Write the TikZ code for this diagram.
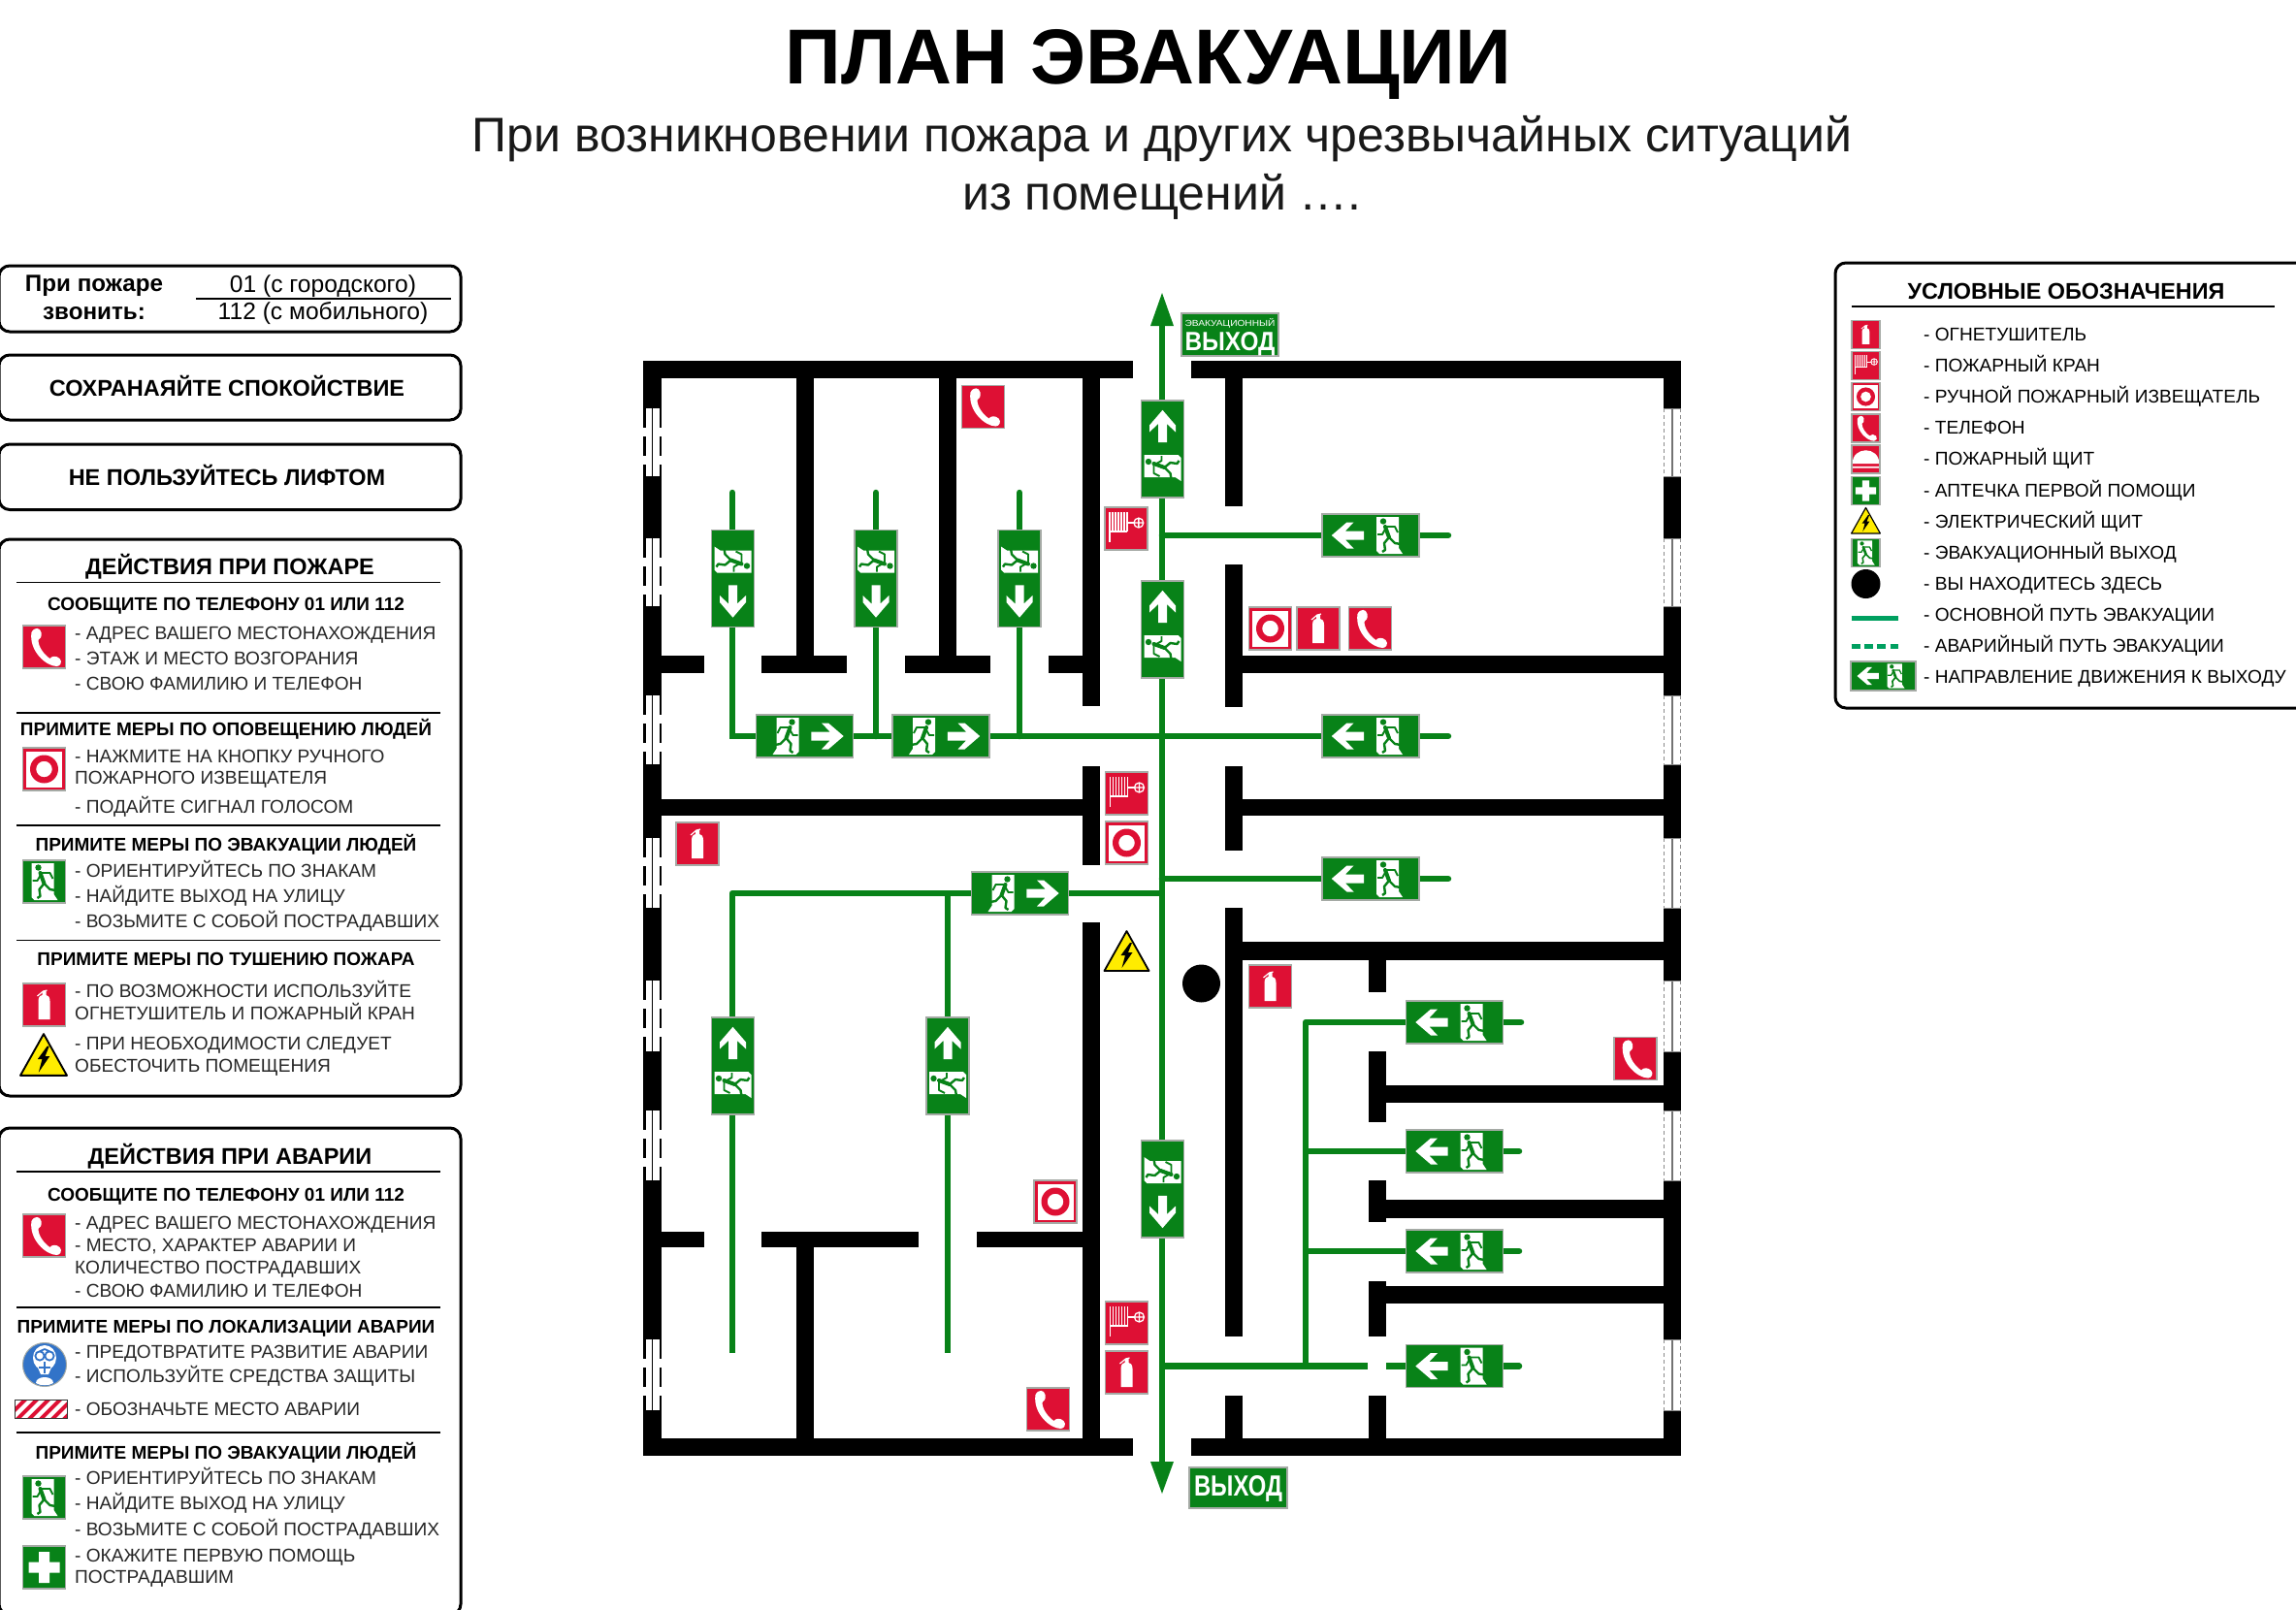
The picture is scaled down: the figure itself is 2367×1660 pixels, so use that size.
\documentclass[tikz,border=0pt]{standalone}
\usepackage{fontspec}
\usepackage{graphicx}
\setmainfont{Liberation Sans}
\definecolor{pgreen}{RGB}{8,130,24}
\definecolor{lgreen}{RGB}{0,160,96}
\definecolor{sred}{RGB}{222,16,52}
\definecolor{frm}{RGB}{165,170,165}
\definecolor{mblue}{RGB}{50,115,200}
\definecolor{wyel}{RGB}{255,236,0}
\newcounter{tn}
\tikzset{
  wallf/.style={fill=black},
  route/.style={draw=pgreen,line width=6.5pt,line cap=butt},
  routeend/.style={draw=pgreen,line width=6.5pt,line cap=round},
  panel/.style={draw=black,line width=3pt,rounded corners=11pt,fill=white},
  rulel/.style={draw=black,line width=1.6pt},
  item/.style={anchor=base west,inner sep=0pt,font=\fontsize{19.1}{21}\selectfont,text=black!85},
  head/.style={anchor=base,inner sep=0pt,font=\bfseries\fontsize{19}{21}\selectfont},
  ttl/.style={anchor=base,inner sep=0pt,font=\bfseries\fontsize{23.5}{26}\selectfont},
  signframe/.style={draw=frm,line width=1.6pt},
  dirL/.style={},
  dirR/.style={cm={-1,0,0,1,(0,0)}},
  dirU/.style={cm={0,-1,-1,0,(0,0)}},
  dirD/.style={cm={0,1,1,0,(0,0)}},
}
% text helpers
\newcommand\itm[2]{\stepcounter{tn}\node[item] (t\thetn) at (77,#1+7) {#2};}
\newcommand\hd[2]{\stepcounter{tn}\node[head] (t\thetn) at (233,#1+7) {#2};}
\newcommand\tl[2]{\stepcounter{tn}\node[ttl] (t\thetn) at (237,#1+8.5) {#2};}
\newcommand\leg[2]{\stepcounter{tn}\node[item,text=black] (t\thetn) at (1983,#1+7) {#2};}
\newcommand\wall[4]{\fill[wallf] (#1,#2) rectangle (#3,#4);}
% pictograms, drawn about the centre of a 44 unit square
\newcommand\icnphone{\fill[white] (-13,-15) .. controls (-10,-21) and (-4,-20) .. (-3,-15)
  .. controls (-2,-11) and (-4,-8) .. (-6,-7)
  .. controls (-6,0) and (0,8) .. (6,12)
  .. controls (8,9) and (13,9) .. (16,12)
  .. controls (19,15) and (17,20) .. (13,20)
  .. controls (2,20) and (-16,4) .. (-13,-15) -- cycle;}
\newcommand\icnext{\fill[white] (-6,15) -- (-6,-4) .. controls (-6,-9) and (-3,-10) .. (-2,-10) -- (-2,-14) -- (2,-14) -- (2,-10) .. controls (4,-10) and (6,-8) .. (6,-4) -- (6,15) -- cycle;
  \draw[white,line width=\sc*1.2pt] (-7,-9) -- (-1,-14) -- (3,-15);}
\newcommand\icnhyd{\foreach \hx in {-17,-14,-11,-8,-5,-2,1}{\draw[white,line width=\sc*1.5pt] (\hx,-17) -- (\hx,3);}
  \draw[white,line width=\sc*1.5pt] (-17,3) -- (-17,14) (-17,3) -- (1,3);
  \draw[white,line width=\sc*1.4pt] (1,-6) -- (8,-6);
  \draw[white,line width=\sc*1.3pt] (13,-6) circle (5) (8,-6) -- (18,-6) (13,-11) -- (13,-1);}
\newcommand\icnman{\fill[white] (-18.5,-18.5) rectangle (18.5,18.5);
  \fill[sred,even odd rule] (0,0) circle (14.5) (0,0) circle (8.3);}
\newcommand\icnshield{\fill[white] (-21,7) .. controls (-21,-21) and (21,-21) .. (21,7) -- cycle (-21,11) rectangle (21,14);}
\newcommand\icncross{\fill[white] (-5.5,-16) rectangle (5.5,16) (-16,-5.5) rectangle (16,5.5);}
\newcommand\manfig{\fill[pgreen] (-6,-14.5) circle (3.2);
  \draw[pgreen,line width=\sc*4pt,line cap=round] (-4,-9) -- (0,2);
  \draw[pgreen,line width=\sc*1.9pt,line join=round] (-3,-9) -- (6,-9) -- (9,-3);
  \draw[pgreen,line width=\sc*1.9pt,line join=round] (-3,-8) -- (-7,-1) -- (-12,-1);
  \draw[pgreen,line width=\sc*2.4pt,line join=round] (0,2) -- (6,8) -- (12,9);
  \draw[pgreen,line width=\sc*2.4pt,line join=round] (0,2) -- (-5,8) -- (-4,15) -- (-7,17);}
\newcommand\doorman{\fill[white] (-13,-19) -- (10,-19) -- (10,13) -- (14,19) -- (-10,19) -- (-13,16) -- cycle; \manfig}
\newcommand\icnexit{\doorman}
\newcommand\arrowleft{\fill[white] (-16.7,0) -- (-1,-13.5) -- (6,-13.5) -- (-2.5,-4.5) -- (16.7,-4.5) -- (16.7,4.5) -- (-2.5,4.5) -- (6,13.5) -- (-1,13.5) -- cycle;}
% #1,#2 centre, #3 size, #4 fill, #5 pictogram
\newcommand\icon[5]{\begin{scope}[shift={(#1,#2)},scale=#3/44]
  \pgfmathsetmacro\sc{#3/44}
  \fill[#4] (-22,-22) rectangle (22,22);
  \csname icn#5\endcsname
  \draw[signframe] (-22,-22) rectangle (22,22);
\end{scope}}
\newcommand\warn[3]{\begin{scope}[shift={(#1,#2)},scale=#3/48]
  \fill[wyel,draw=black,line width=#3/48*1.8pt,line join=round] (-23,20) -- (0,-21) -- (23,20) -- cycle;
  \fill[black] (3.5,-9) -- (-6,4) -- (-1.5,4) -- (-5,17) -- (6,1) -- (1.5,1) -- (5.5,-9) -- cycle;
\end{scope}}
\newcommand\xsign[4]{\begin{scope}[shift={(#1,#2)},scale=#3,#4]
  \pgfmathsetmacro\sc{#3}
  \fill[pgreen] (-50,-22) rectangle (50,22);
  \begin{scope}[shift={(-23.5,0)}]\arrowleft\end{scope}
  \begin{scope}[shift={(19,0)}]\doorman\end{scope}
  \draw[signframe] (-50,-22) rectangle (50,22);
\end{scope}}
\newcommand\winl[2]{\fill[white] (660,#1) rectangle (686,#2);
  \draw[black,line width=2.2pt,dash pattern=on 20pt off 9pt] (664.5,#1) -- (664.5,#2);
  \draw[black,line width=2.2pt,dash pattern=on 20pt off 9pt] (681,#1) -- (681,#2);
  \draw[black,line width=1.2pt] (672.5,#1) -- (672.5,#2);}
\newcommand\winr[2]{\fill[white] (1712,#1) rectangle (1736,#2);
  \draw[black!45,line width=1.3pt,dash pattern=on 4pt off 3pt] (1715.5,#1) -- (1715.5,#2);
  \draw[black!45,line width=1.3pt,dash pattern=on 4pt off 3pt] (1732.5,#1) -- (1732.5,#2);
  \draw[black!55,line width=1.3pt] (1724,#1) -- (1724,#2);
  \draw[black!45,line width=1pt] (1715,#1) -- (1733,#1) (1715,#2) -- (1733,#2);}
\begin{document}
\begin{tikzpicture}[x=1pt,y=-1pt]
\useasboundingbox (0,0) rectangle (2367,1660);
\fill[white] (0,0) rectangle (2367,1660);
% titles
\node[anchor=base,inner sep=0pt,font=\bfseries\fontsize{80.3}{86}\selectfont] (title) at (1184,86) {ПЛАН ЭВАКУАЦИИ};
\node[anchor=base,inner sep=0pt,font=\fontsize{50}{54}\selectfont,text=black!90] (sub1) at (1198,156) {При возникновении пожара и других чрезвычайных ситуаций};
\node[anchor=base,inner sep=0pt,font=\fontsize{50}{54}\selectfont,text=black!90] (sub2) at (1198,216) {из помещений ….};
% left boxes
\draw[panel] (-1,274) rectangle (475,342);
\node[anchor=base,inner sep=0pt,font=\bfseries\fontsize{24.2}{26}\selectfont] (p1) at (97,300) {При пожаре};
\node[anchor=base,inner sep=0pt,font=\bfseries\fontsize{24.2}{26}\selectfont] (p2) at (97,329) {звонить:};
\node[anchor=base,inner sep=0pt,font=\fontsize{24.6}{26}\selectfont] (p3) at (333,301) {01 (с городского)};
\node[anchor=base,inner sep=0pt,font=\fontsize{24.6}{26}\selectfont] (p4) at (333,329) {112 (с мобильного)};
\draw[rulel] (202,308) -- (465,308);
\draw[panel] (-1,366) rectangle (475,433);
\node[anchor=base,inner sep=0pt,font=\bfseries\fontsize{23.5}{26}\selectfont] (calm) at (234,408.5) {СОХРАНАЯЙТЕ СПОКОЙСТВИЕ};
\draw[panel] (-1,458) rectangle (475,525.5);
\node[anchor=base,inner sep=0pt,font=\bfseries\fontsize{23.5}{26}\selectfont] (lift) at (234,500.5) {НЕ ПОЛЬЗУЙТЕСЬ ЛИФТОМ};
% fire panel
\draw[panel] (-1,556) rectangle (475,1130);
\tl{583.5}{ДЕЙСТВИЯ ПРИ ПОЖАРЕ}
\draw[rulel] (17,600.5) -- (454,600.5);
\hd{622.5}{СООБЩИТЕ ПО ТЕЛЕФОНУ 01 ИЛИ 112}
\itm{652.5}{- АДРЕС ВАШЕГО МЕСТОНАХОЖДЕНИЯ}
\itm{678.5}{- ЭТАЖ И МЕСТО ВОЗГОРАНИЯ}
\itm{704.5}{- СВОЮ ФАМИЛИЮ И ТЕЛЕФОН}
\draw[rulel] (17,735) -- (454,735);
\hd{751}{ПРИМИТЕ МЕРЫ ПО ОПОВЕЩЕНИЮ ЛЮДЕЙ}
\itm{779}{- НАЖМИТЕ НА КНОПКУ РУЧНОГО}
\itm{801.5}{ПОЖАРНОГО ИЗВЕЩАТЕЛЯ}
\itm{831}{- ПОДАЙТЕ СИГНАЛ ГОЛОСОМ}
\draw[rulel] (17,851) -- (454,851);
\hd{870}{ПРИМИТЕ МЕРЫ ПО ЭВАКУАЦИИ ЛЮДЕЙ}
\itm{897}{- ОРИЕНТИРУЙТЕСЬ ПО ЗНАКАМ}
\itm{923}{- НАЙДИТЕ ВЫХОД НА УЛИЦУ}
\itm{949.5}{- ВОЗЬМИТЕ С СОБОЙ ПОСТРАДАВШИХ}
\draw[rulel] (17,969.5) -- (454,969.5);
\hd{988}{ПРИМИТЕ МЕРЫ ПО ТУШЕНИЮ ПОЖАРА}
\itm{1021}{- ПО ВОЗМОЖНОСТИ ИСПОЛЬЗУЙТЕ}
\itm{1044}{ОГНЕТУШИТЕЛЬ И ПОЖАРНЫЙ КРАН}
\itm{1075}{- ПРИ НЕОБХОДИМОСТИ СЛЕДУЕТ}
\itm{1098}{ОБЕСТОЧИТЬ ПОМЕЩЕНИЯ}
\icon{45.5}{667}{44}{sred}{phone}
\icon{45.5}{793}{44}{sred}{man}
\icon{45.5}{909}{44}{pgreen}{exit}
\icon{45.5}{1036}{44}{sred}{ext}
\warn{45}{1088}{50}
% accident panel
\draw[panel] (-1,1163) rectangle (475,1665);
\tl{1192}{ДЕЙСТВИЯ ПРИ АВАРИИ}
\draw[rulel] (17,1208) -- (454,1208);
\hd{1231}{СООБЩИТЕ ПО ТЕЛЕФОНУ 01 ИЛИ 112}
\itm{1260}{- АДРЕС ВАШЕГО МЕСТОНАХОЖДЕНИЯ}
\itm{1283}{- МЕСТО, ХАРАКТЕР АВАРИИ И}
\itm{1306}{КОЛИЧЕСТВО ПОСТРАДАВШИХ}
\itm{1330}{- СВОЮ ФАМИЛИЮ И ТЕЛЕФОН}
\draw[rulel] (17,1348) -- (454,1348);
\hd{1367}{ПРИМИТЕ МЕРЫ ПО ЛОКАЛИЗАЦИИ АВАРИИ}
\itm{1393}{- ПРЕДОТВРАТИТЕ РАЗВИТИЕ АВАРИИ}
\itm{1418}{- ИСПОЛЬЗУЙТЕ СРЕДСТВА ЗАЩИТЫ}
\itm{1452}{- ОБОЗНАЧЬТЕ МЕСТО АВАРИИ}
\draw[rulel] (17,1477) -- (454,1477);
\hd{1497}{ПРИМИТЕ МЕРЫ ПО ЭВАКУАЦИИ ЛЮДЕЙ}
\itm{1523}{- ОРИЕНТИРУЙТЕСЬ ПО ЗНАКАМ}
\itm{1549}{- НАЙДИТЕ ВЫХОД НА УЛИЦУ}
\itm{1576}{- ВОЗЬМИТЕ С СОБОЙ ПОСТРАДАВШИХ}
\itm{1603}{- ОКАЖИТЕ ПЕРВУЮ ПОМОЩЬ}
\itm{1625}{ПОСТРАДАВШИМ}
\icon{45.5}{1274}{44}{sred}{phone}
% mask
\begin{scope}[shift={(46,1407)}]
  \fill[mblue,draw=frm,line width=1pt] (0,0) circle (22.5);
  \fill[white] (0,-7) ellipse (12 and 13);
  \fill[white] (-7,3) -- (7,3) -- (4,10) -- (-4,10) -- cycle;
  \fill[white] (-9,19) .. controls (-9,11) and (9,11) .. (9,19) .. controls (5,22) and (-5,22) .. (-9,19) -- cycle;
  \draw[mblue,line width=1.8pt] (-5,-9) circle (4.6) (5,-9) circle (4.6) (0,-16) -- (-9,-12) (0,-16) -- (9,-12);
  \draw[mblue,line width=1.2pt] (-6,3) -- (6,3) (0,-3) -- (0,9);
\end{scope}
% danger stripe
\begin{scope}
  \clip (15,1443) rectangle (69,1462);
  \fill[sred] (15,1443) rectangle (69,1462);
  \foreach \sx in {-6,6,18,30,42,54}{\fill[white] (\sx+4,1462) -- (\sx+10,1462) -- (\sx+29,1443) -- (\sx+23,1443) -- cycle;}
\end{scope}
\draw[black!80,line width=1pt] (15,1443) rectangle (69,1462);
\icon{45.5}{1544}{44}{pgreen}{exit}
\icon{45.5}{1616}{44}{pgreen}{cross}
% legend
\draw[panel] (1892,271) rectangle (2380,730);
\node[anchor=base,inner sep=0pt,font=\bfseries\fontsize{23.4}{26}\selectfont] (lt) at (2130,308) {УСЛОВНЫЕ ОБОЗНАЧЕНИЯ};
\draw[rulel] (1909,316) -- (2345,316);
\leg{344}{- ОГНЕТУШИТЕЛЬ}
\leg{376}{- ПОЖАРНЫЙ КРАН}
\leg{408}{- РУЧНОЙ ПОЖАРНЫЙ ИЗВЕЩАТЕЛЬ}
\leg{440.5}{- ТЕЛЕФОН}
\leg{472.5}{- ПОЖАРНЫЙ ЩИТ}
\leg{505}{- АПТЕЧКА ПЕРВОЙ ПОМОЩИ}
\leg{537}{- ЭЛЕКТРИЧЕСКИЙ ЩИТ}
\leg{569}{- ЭВАКУАЦИОННЫЙ ВЫХОД}
\leg{601}{- ВЫ НАХОДИТЕСЬ ЗДЕСЬ}
\leg{633.5}{- ОСНОВНОЙ ПУТЬ ЭВАКУАЦИИ}
\leg{665.5}{- АВАРИЙНЫЙ ПУТЬ ЭВАКУАЦИИ}
\leg{697.5}{- НАПРАВЛЕНИЕ ДВИЖЕНИЯ К ВЫХОДУ}
\icon{1923.5}{345}{29}{sred}{ext}
\icon{1923.5}{377}{29}{sred}{hyd}
\icon{1923.5}{409}{29}{sred}{man}
\icon{1923.5}{441.5}{29}{sred}{phone}
\icon{1923.5}{473.5}{29}{sred}{shield}
\icon{1923.5}{506}{29}{pgreen}{cross}
\warn{1923.5}{537}{31}
\icon{1923.5}{570}{29}{pgreen}{exit}
\fill[black] (1923.5,602) circle (15);
\draw[lgreen,line width=4.5pt] (1908.5,637.5) -- (1957,637.5);
\draw[lgreen,line width=4.5pt,dash pattern=on 9pt off 4.4pt] (1908.5,666.5) -- (1957,666.5);
\xsign{1941.5}{697}{0.67}{dirL}
% walls
\wall{663}{372}{1168}{390}
\wall{1228}{372}{1733}{390}
\wall{663}{1483}{1168}{1501}
\wall{1228}{1483}{1733}{1501}
\wall{663}{372}{682}{1501}
\wall{1715}{372}{1733}{1501}
\wall{820.5}{390}{838.5}{676}
\wall{968}{390}{986}{676}
\wall{1116}{390}{1134}{728}
\wall{682}{676}{726}{694}
\wall{785}{676}{873}{694}
\wall{933}{676}{1020.5}{694}
\wall{1081}{676}{1116}{694}
\wall{1263}{390}{1281}{522}
\wall{1263}{582}{1281}{729}
\wall{1281}{676}{1715}{694}
\wall{1116}{790}{1134}{892}
\wall{682}{824}{1116}{841}
\wall{1263}{790}{1281}{877}
\wall{1281}{824}{1715}{841}
\wall{1116}{951}{1134}{1483}
\wall{682}{1270}{726}{1286}
\wall{785}{1270}{947}{1286}
\wall{1007}{1270}{1116}{1286}
\wall{820.5}{1286}{838.5}{1483}
\wall{1263}{936}{1281}{1378}
\wall{1263}{1438.5}{1281}{1483}
\wall{1281}{971}{1715}{989.5}
\wall{1411}{989}{1429}{1023}
\wall{1411}{1084}{1429}{1157}
\wall{1411}{1217}{1429}{1260}
\wall{1411}{1320.5}{1429}{1378}
\wall{1411}{1438.5}{1429}{1483}
\wall{1429}{1119}{1715}{1137}
\wall{1429}{1237}{1715}{1256}
\wall{1429}{1326}{1715}{1344}
% windows
\foreach \wa/\wb in {421/491,555/625,717/788,864/936,1011/1084,1145/1217,1381/1454}{\winl{\wa}{\wb}}
\foreach \wa/\wb in {421/491,555/625,717/788,864/936,1011/1084,1145/1217,1381/1454}{\winr{\wa}{\wb}}
% routes
\draw[route] (1198,330) -- (1198,1512);
\fill[pgreen] (1198,302) -- (1210,336) -- (1186,336) -- cycle;
\fill[pgreen] (1198,1540) -- (1210,1507) -- (1186,1507) -- cycle;
\draw[routeend] (1198,552) -- (1493,552);
\draw[routeend] (755,508) -- (755,759) -- (1493,759);
\draw[routeend] (903,508) -- (903,759);
\draw[routeend] (1051,508) -- (1051,759);
\draw[routeend] (1198,906) -- (1493,906);
\draw[route,line join=round] (755,1395) -- (755,921) -- (1198,921);
\draw[route] (977,921) -- (977,1395);
\draw[route] (1198,1408.5) -- (1410,1408.5);
\draw[route] (1429,1408.5) -- (1450,1408.5);
\draw[routeend] (1450,1408.5) -- (1566,1408.5);
\draw[route,line join=round] (1346,1408.5) -- (1346,1054) -- (1450,1054);
\draw[routeend] (1450,1054) -- (1568,1054);
\draw[route] (1346,1187) -- (1450,1187);
\draw[routeend] (1450,1187) -- (1566,1187);
\draw[route] (1346,1290) -- (1450,1290);
\draw[routeend] (1450,1290) -- (1566,1290);
% direction signs
\xsign{1413}{552}{1}{dirL}
\xsign{1413}{759}{1}{dirL}
\xsign{1413}{906}{1}{dirL}
\xsign{1499.5}{1054}{1}{dirL}
\xsign{1499.5}{1187}{1}{dirL}
\xsign{1499.5}{1290}{1}{dirL}
\xsign{1499.5}{1408.5}{1}{dirL}
\xsign{829.5}{759}{1}{dirR}
\xsign{970}{759}{1}{dirR}
\xsign{1051.5}{921}{1}{dirR}
\xsign{1198.5}{463}{1}{dirU}
\xsign{1198.5}{649}{1}{dirU}
\xsign{755.5}{1099}{1}{dirU}
\xsign{977}{1099}{1}{dirU}
\xsign{755.5}{596.5}{1}{dirD}
\xsign{903}{596.5}{1}{dirD}
\xsign{1051}{596.5}{1}{dirD}
\xsign{1198.5}{1226}{1}{dirD}
% exit boards
\fill[pgreen] (1218,323) rectangle (1318,367);
\draw[signframe] (1218,323) rectangle (1318,367);
\node[inner sep=0pt,text=white] (ev1) at (1268,333.5) {\resizebox{93pt}{8pt}{ЭВАКУАЦИОННЫЙ}};
\node[inner sep=0pt,text=white] (ev2) at (1268,354.5) {\resizebox{93pt}{19pt}{\bfseries ВЫХОД}};
\fill[pgreen] (1226,1513) rectangle (1327,1555);
\draw[signframe] (1226,1513) rectangle (1327,1555);
\node[inner sep=0pt,text=white] (ex1) at (1276.5,1535) {\resizebox{91pt}{21pt}{\bfseries ВЫХОД}};
% equipment on plan
\icon{1013.5}{419.5}{44}{sred}{phone}
\icon{1161}{545}{43.5}{sred}{hyd}
\icon{1309.5}{648}{44}{sred}{man}
\icon{1359}{648}{44}{sred}{ext}
\icon{1412.5}{648}{44}{sred}{phone}
\icon{1161.5}{818}{44}{sred}{hyd}
\icon{1161.5}{869}{44}{sred}{man}
\icon{719}{870}{44}{sred}{ext}
\warn{1161.5}{981}{48}
\fill[black] (1238.5,1014) circle (19.5);
\icon{1309.5}{1017}{44}{sred}{ext}
\icon{1686}{1091.5}{44}{sred}{phone}
\icon{1088}{1239}{44}{sred}{man}
\icon{1161.5}{1364}{44}{sred}{hyd}
\icon{1161.5}{1415}{44}{sred}{ext}
\icon{1080.5}{1453}{44}{sred}{phone}
\end{tikzpicture}
\end{document}
